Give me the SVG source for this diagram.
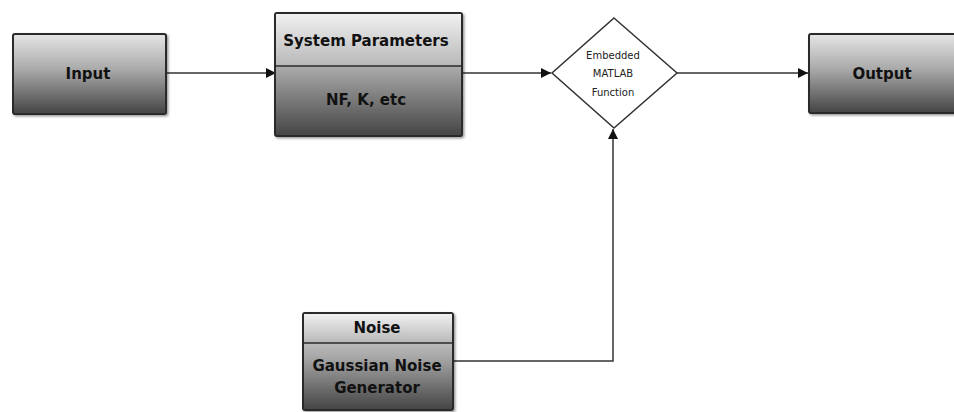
<svg xmlns="http://www.w3.org/2000/svg" width="954" height="412" viewBox="0 0 954 412">
<style>
.box{stroke:#2a2a2a;stroke-width:2}
.lbl{font-family:"DejaVu Sans",Verdana,sans-serif;fill:#111;text-anchor:middle;dominant-baseline:central}
.big{font-size:15px;font-weight:bold}
.small{font-size:10px;fill:#222}
.conn{fill:none;stroke:#333;stroke-width:1.5}
.sep{stroke:#2a2a2a;stroke-width:1.5}
</style>
<defs>
<linearGradient id="g" x1="0" y1="0" x2="0" y2="1">
<stop offset="0" stop-color="#e6e6e6"/>
<stop offset="0.45" stop-color="#a8a8a8"/>
<stop offset="1" stop-color="#444"/>
</linearGradient>
<linearGradient id="gt" x1="0" y1="0" x2="0" y2="1">
<stop offset="0" stop-color="#f0f0f0"/>
<stop offset="1" stop-color="#b8b8b8"/>
</linearGradient>
<marker id="arr" viewBox="0 0 10 10" refX="10" refY="5" markerWidth="14" markerHeight="10" markerUnits="userSpaceOnUse" orient="auto">
<path d="M0,0 L10,5 L0,10 z" fill="#111"/>
</marker>
<filter id="sh" x="-10%" y="-10%" width="120%" height="120%">
<feDropShadow dx="1.5" dy="1.5" stdDeviation="1" flood-color="#000" flood-opacity="0.4"/>
</filter>
</defs>
<rect width="954" height="412" fill="#fff"/>
<g id="connectors">
<line class="conn" x1="166" y1="73" x2="276" y2="73" marker-end="url(#arr)"/>
<line class="conn" x1="462" y1="73" x2="551" y2="73" marker-end="url(#arr)"/>
<line class="conn" x1="677" y1="73" x2="808" y2="73" marker-end="url(#arr)"/>
<polyline class="conn" points="453,361 613,361 613,129" marker-end="url(#arr)"/>
</g>
<g id="input">
<rect class="box" x="13" y="34" width="153" height="80" rx="2" fill="url(#g)" filter="url(#sh)"/>
<text class="lbl big" x="88" y="74">Input</text>
</g>
<g id="system-parameters">
<rect class="box" x="275" y="13" width="187" height="123" rx="2" fill="url(#g)" filter="url(#sh)"/>
<rect x="276" y="14" width="185" height="52" fill="url(#gt)"/>
<line class="sep" x1="275" y1="66" x2="462" y2="66"/>
<text class="lbl big" x="366" y="41">System Parameters</text>
<text class="lbl big" x="366" y="100">NF, K, etc</text>
</g>
<g id="embedded-matlab-function">
<polygon points="614,18 677,73 614,128 552,73" fill="#fff" stroke="#333" stroke-width="1.5"/>
<text class="lbl small" x="613" y="55">Embedded</text>
<text class="lbl small" x="613" y="73">MATLAB</text>
<text class="lbl small" x="613" y="92">Function</text>
</g>
<g id="output">
<rect class="box" x="809" y="34" width="160" height="79" rx="2" fill="url(#g)" filter="url(#sh)"/>
<text class="lbl big" x="882" y="74">Output</text>
</g>
<g id="noise">
<rect class="box" x="303" y="313" width="150" height="97" rx="2" fill="url(#g)" filter="url(#sh)"/>
<rect x="304" y="314" width="148" height="29" fill="url(#gt)"/>
<line class="sep" x1="303" y1="343" x2="453" y2="343"/>
<text class="lbl big" x="377" y="328">Noise</text>
<text class="lbl big" x="377" y="366">Gaussian Noise</text>
<text class="lbl big" x="377" y="388">Generator</text>
</g>
</svg>
